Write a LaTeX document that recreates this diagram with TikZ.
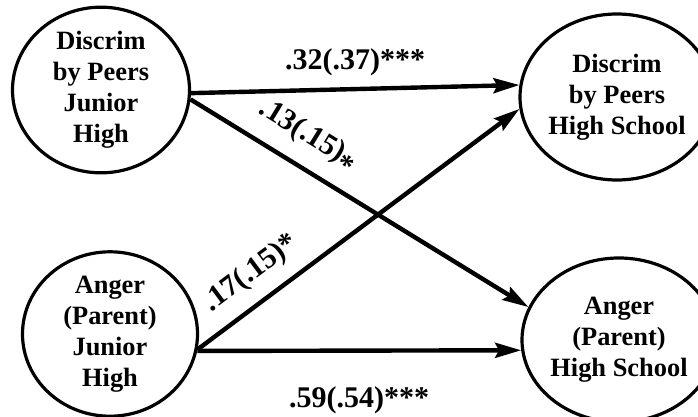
\documentclass[tikz,border=0pt]{standalone}
\usepackage{fontspec}
\setmainfont{Liberation Serif}
\usetikzlibrary{shapes.geometric,arrows.meta}
\tikzstyle{factor}=[ellipse,line width=1.6pt,draw=black,inner sep=0pt,align=center,font=\fontsize{13.2}{15.5}\selectfont\bfseries]
\tikzstyle{edge} = [draw,line width=2.2pt,-{Stealth[length=13pt,width=7.5pt,inset=2pt]}]
\tikzstyle{coef} = [font=\fontsize{15}{18}\selectfont\bfseries,inner sep=3pt]

\begin{document}
\begin{tikzpicture}[x=0.5pt,y=-0.5pt]
  \useasboundingbox (0,0) rectangle (698,417);

  % define the round nodes
  \foreach \pos/\w/\h/\label/\txt in {
    {(101,90)/88.5/78/dpj/Discrim\\by Peers\\Junior\\High},
    {(617,97)/78/83/dph/Discrim\\by Peers\\High School},
    {(110,334)/87.5/79/apj/Anger\\(Parent)\\Junior\\High},
    {(619,340)/80/82/aph/Anger\\(Parent)\\High School}}
    \node[factor,minimum width=\w pt,minimum height=\h pt] (\label) at \pos {\txt};

  % paths with the coefficients
  \path[edge] (dpj.-2) -- node[coef,above=2.4pt] (c1) {.32(.37)***} (dph.173);
  \path[edge] (dpj.-6) -- node[coef,sloped,above=3.4pt,pos=0.3] (c2) {.13(.15)\raisebox{-0.3em}{*}} (aph.160);
  \path[edge] (apj.-10) -- node[coef,sloped,above=3.4pt,pos=0.22] (c3) {.17(.15)*} (dph.187);
  \path[edge] (apj.-11) -- node[coef,below=14pt] (c4) {.59(.54)***} (aph.186);

\end{tikzpicture}
\end{document}
